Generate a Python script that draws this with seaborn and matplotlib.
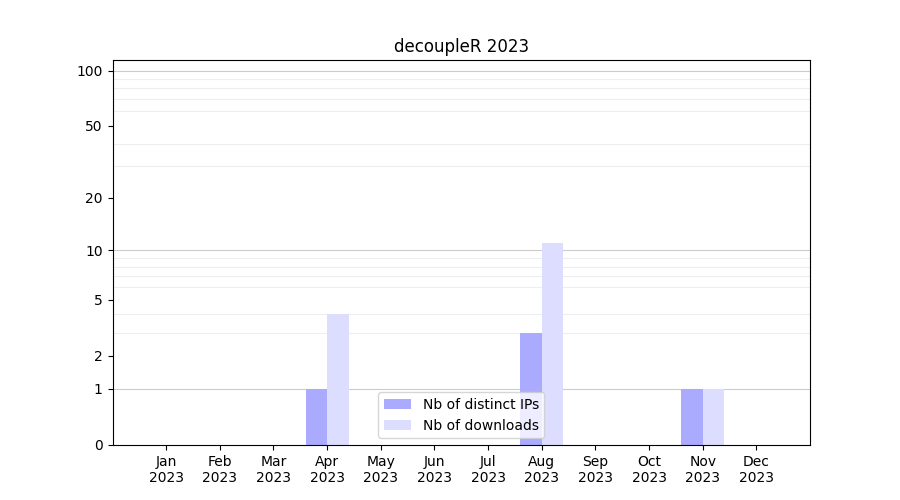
import numpy as np
import pandas as pd
import matplotlib
matplotlib.use('Agg')
import matplotlib.pyplot as plt
import seaborn as sns

# Data
months = ['Jan', 'Feb', 'Mar', 'Apr', 'May', 'Jun', 'Jul', 'Aug', 'Sep', 'Oct', 'Nov', 'Dec']
year = '2023'
distinct_ips = [0, 0, 0, 1, 0, 0, 0, 3, 0, 0, 1, 0]
downloads = [0, 0, 0, 4, 0, 0, 0, 11, 0, 0, 1, 0]
tick_values = [0, 1, 2, 5, 10, 20, 50, 100]

labels = [m + '\n' + year for m in months]
df = pd.DataFrame({
    'month': labels * 2,
    'count': distinct_ips + downloads,
    'series': ['Nb of distinct IPs'] * 12 + ['Nb of downloads'] * 12,
})

fig, ax = plt.subplots(figsize=(9, 5), dpi=100)
sns.barplot(data=df, x='month', y='count', hue='series', order=labels,
            palette=['#aaaaff', '#ddddff'], saturation=1, linewidth=0, ax=ax)

# log(1 + x) scale so that zero is shown
ax.set_yscale('function', functions=(lambda v: np.log10(1 + np.clip(v, 0, None)),
                                     lambda v: 10 ** v - 1))
ax.set_ylim(0, 114)
ax.set_xlim(-1, 12)
ax.set_yticks(tick_values)
ax.set_yticklabels([str(v) for v in tick_values])
minor = list(range(2, 10)) + list(range(20, 100, 10))
ax.set_yticks(minor, minor=True)
ax.tick_params(axis='y', which='minor', length=0)
ax.grid(False)
ax.grid(axis='y', which='minor', color='#eeeeee', linewidth=0.8)
for v in [1, 10, 100]:
    ax.axhline(v, color='#cccccc', linewidth=0.8, zorder=0.5)
ax.set_axisbelow(True)

ax.set_xlabel('')
ax.set_ylabel('')
ax.set_title('decoupleR 2023')
ax.legend(loc='lower center')

plt.savefig('out.png')
